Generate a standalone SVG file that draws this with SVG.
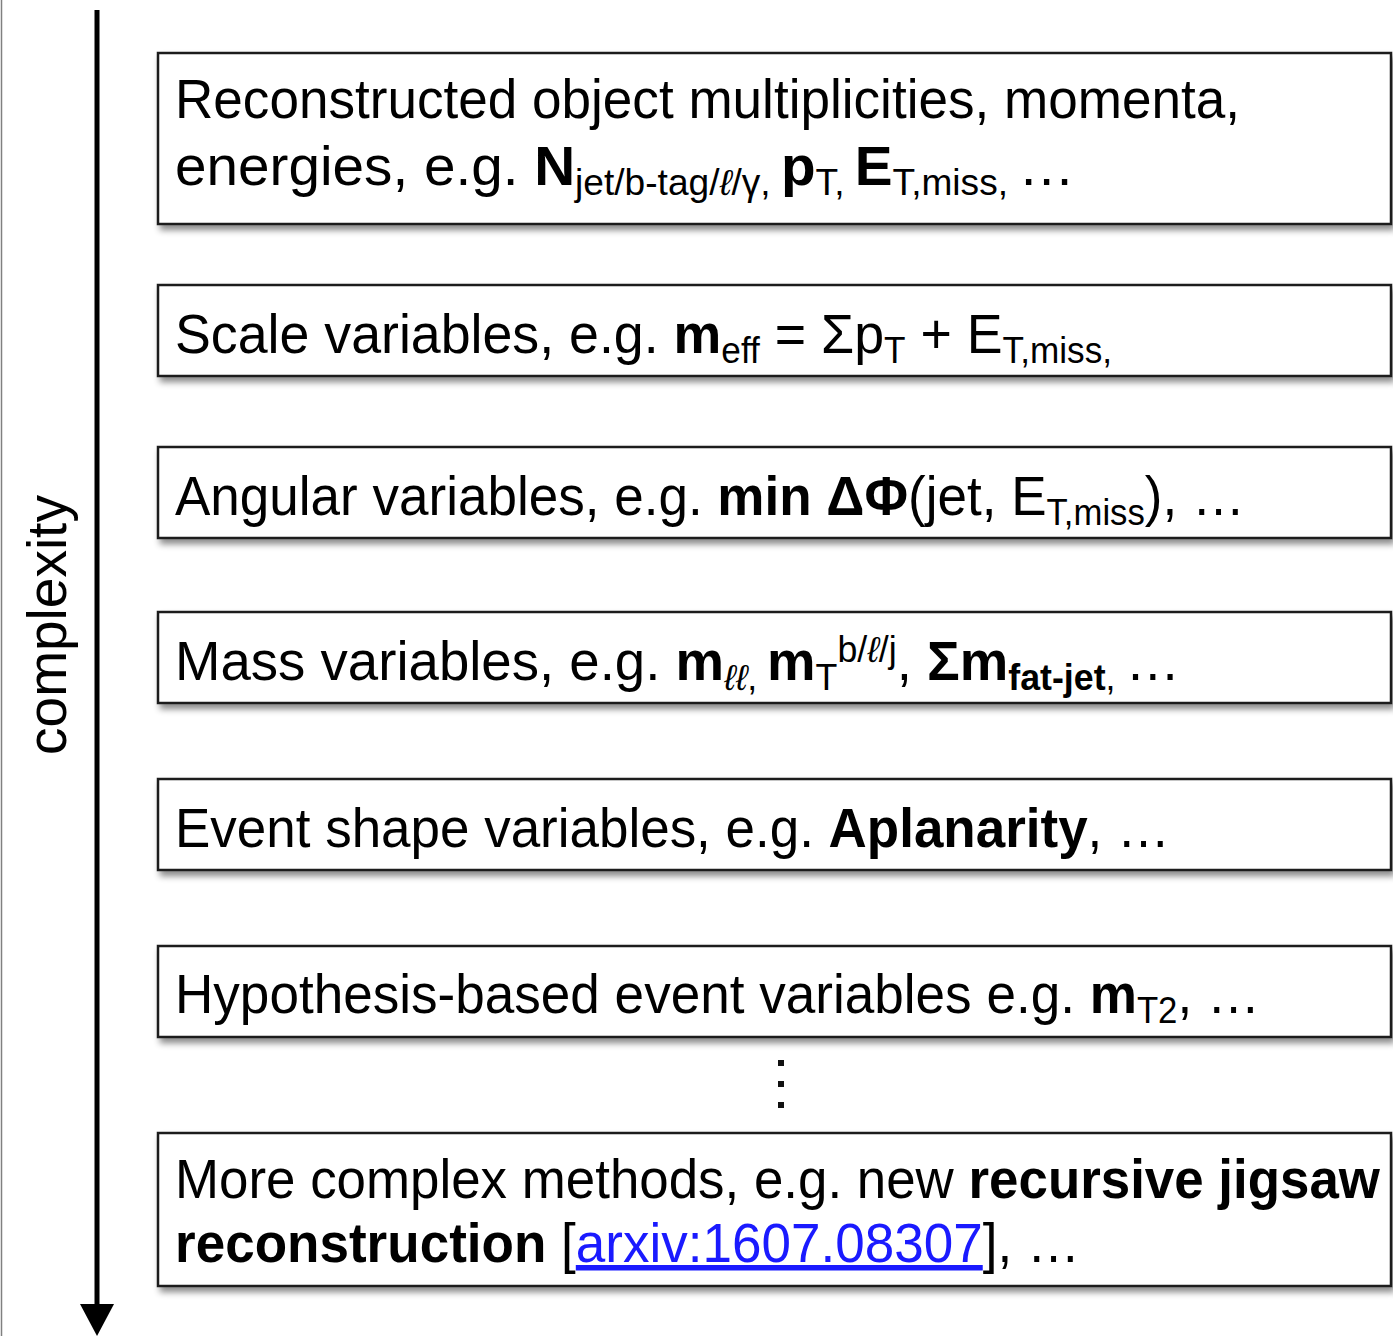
<svg xmlns="http://www.w3.org/2000/svg" width="1393" height="1336" viewBox="0 0 1393 1336">
  <style>
    .box { fill: #ffffff; stroke: #1a1a1a; stroke-width: 2.5; filter: url(#shadow); }
    .t { font-family: "Liberation Sans", Arial, sans-serif; font-size: 55px; fill: #000; }
    .b { font-weight: bold; }
    .s { font-size: 36px; font-weight: normal; }
    .sb { font-size: 36px; font-weight: bold; }
    .it { font-style: italic; }
    .link { fill: #1a1aff; text-decoration: underline; }
  </style>
  <defs>
    <filter id="shadow" x="-5%" y="-20%" width="115%" height="150%">
      <feDropShadow dx="3" dy="5" stdDeviation="3" flood-color="#000" flood-opacity="0.45"/>
    </filter>
  </defs>

  <!-- page frame line on the left -->
  <line x1="1.5" y1="0" x2="1.5" y2="1336" stroke="#808080" stroke-width="1.5"/>

  <!-- complexity axis -->
  <g id="axis">
    <line x1="97" y1="10" x2="97" y2="1306" stroke="#000" stroke-width="5"/>
    <polygon points="80,1304 114,1304 97,1336" fill="#000"/>
    <text class="t" font-size="52" transform="translate(66,625) rotate(-90)" text-anchor="middle">complexity</text>
  </g>

  <g id="connectors">
    <!-- vertical ellipsis between the last two levels -->
    <rect x="778" y="1060" width="6" height="6" fill="#111"/>
    <rect x="778" y="1081" width="6" height="6" fill="#111"/>
    <rect x="778" y="1102" width="6" height="6" fill="#111"/>
  </g>

  <g id="node-reconstructed">
    <rect class="box" x="158" y="53" width="1233" height="171"/>
    <text class="t" x="175" y="118" textLength="1065" lengthAdjust="spacingAndGlyphs">Reconstructed object multiplicities, momenta,</text>
    <text class="t" x="175" y="185" textLength="900" lengthAdjust="spacingAndGlyphs">energies, e.g. <tspan class="b">N</tspan><tspan class="s" dy="10">jet/b-tag/<tspan class="it">ℓ</tspan>/γ, </tspan><tspan class="b" dy="-10">p</tspan><tspan class="s" dy="10">T</tspan><tspan class="s">, </tspan><tspan class="b" dy="-10">E</tspan><tspan class="s" dy="10">T,miss</tspan><tspan class="s">, </tspan><tspan dy="-10">…</tspan></text>
  </g>

  <g id="node-scale">
    <rect class="box" x="158" y="285" width="1233" height="91"/>
    <text class="t" x="175" y="353" textLength="937" lengthAdjust="spacingAndGlyphs">Scale variables, e.g. <tspan class="b">m</tspan><tspan class="s" dy="10">eff</tspan><tspan dy="-10"> = Σp</tspan><tspan class="s" dy="10">T</tspan><tspan dy="-10"> + E</tspan><tspan class="s" dy="10">T,miss</tspan><tspan class="s">,</tspan></text>
  </g>

  <g id="node-angular">
    <rect class="box" x="158" y="447" width="1233" height="91"/>
    <text class="t" x="175" y="515" textLength="1070" lengthAdjust="spacingAndGlyphs">Angular variables, e.g. <tspan class="b">min ΔΦ</tspan>(jet, E<tspan class="s" dy="10">T,miss</tspan><tspan dy="-10">), …</tspan></text>
  </g>

  <g id="node-mass">
    <rect class="box" x="158" y="612" width="1233" height="91"/>
    <text class="t" x="175" y="680" textLength="1005" lengthAdjust="spacingAndGlyphs">Mass variables, e.g. <tspan class="b">m</tspan><tspan class="s it" dy="10">ℓℓ</tspan><tspan class="s">, </tspan><tspan class="b" dy="-10">m</tspan><tspan class="s" dy="10">T</tspan><tspan class="s" dy="-28">b/<tspan class="it">ℓ</tspan>/j</tspan><tspan dy="18">, </tspan><tspan class="b">Σm</tspan><tspan class="sb" dy="10">fat-jet</tspan><tspan class="s">, </tspan><tspan dy="-10">…</tspan></text>
  </g>

  <g id="node-event-shape">
    <rect class="box" x="158" y="779" width="1233" height="91"/>
    <text class="t" x="175" y="847" textLength="995" lengthAdjust="spacingAndGlyphs">Event shape variables, e.g. <tspan class="b">Aplanarity</tspan>, …</text>
  </g>

  <g id="node-hypothesis">
    <rect class="box" x="158" y="946" width="1233" height="91"/>
    <text class="t" x="175" y="1013" textLength="1085" lengthAdjust="spacingAndGlyphs">Hypothesis-based event variables e.g. <tspan class="b">m</tspan><tspan class="s" dy="10">T2</tspan><tspan dy="-10">, …</tspan></text>
  </g>

  <g id="node-complex">
    <rect class="box" x="158" y="1133" width="1233" height="153"/>
    <text class="t" x="175" y="1198" textLength="1205" lengthAdjust="spacingAndGlyphs">More complex methods, e.g. new <tspan class="b">recursive jigsaw</tspan></text>
    <text class="t" x="175" y="1262" textLength="905" lengthAdjust="spacingAndGlyphs"><tspan class="b">reconstruction</tspan> [<tspan class="link">arxiv:1607.08307</tspan>], …</text>
  </g>
</svg>
